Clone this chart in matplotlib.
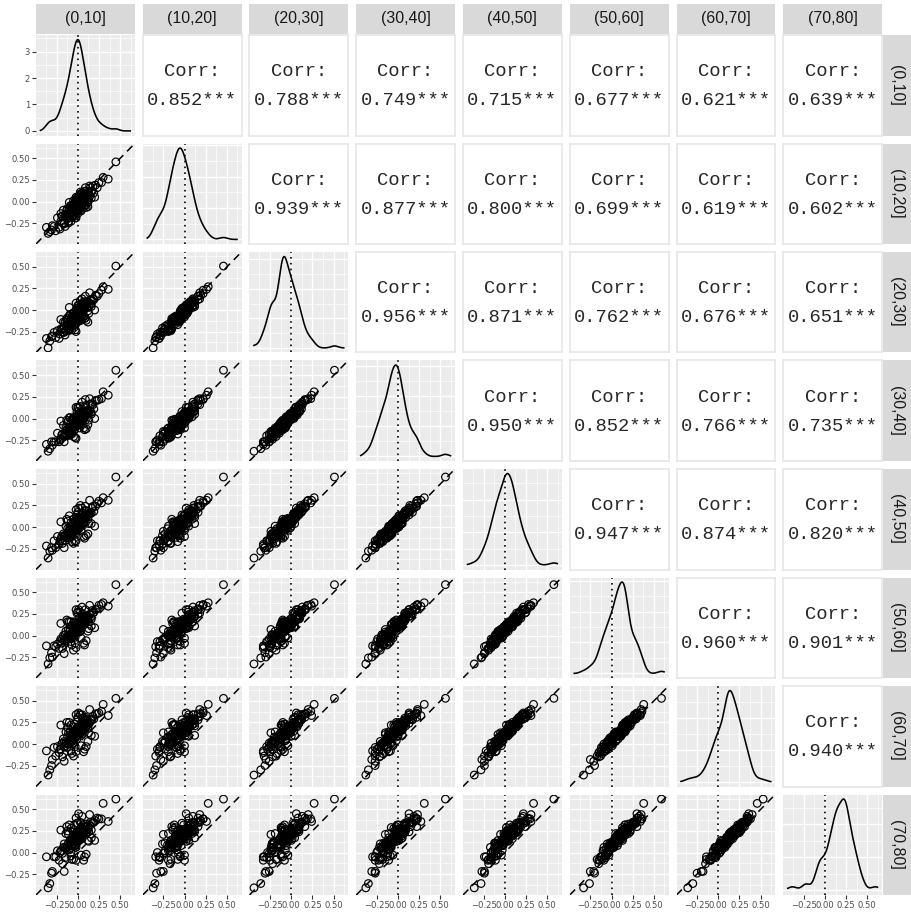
import numpy as np
import matplotlib.pyplot as plt
from matplotlib.ticker import MaxNLocator

# age groups (one variable per group)
groups = ['(0,10]', '(10,20]', '(20,30]', '(30,40]', '(40,50]', '(50,60]', '(60,70]', '(70,80]']

g0_10 = [0.45, 0.30, -0.35, -0.33, -0.31, -0.37, -0.22, -0.28, -0.26, -0.24,
         -0.21, -0.20, -0.19, -0.18, -0.17, -0.16, -0.15, -0.15, -0.14, -0.13,
         -0.12, -0.12, -0.11, -0.10, -0.10, -0.09, -0.09, -0.08, -0.08, -0.07,
         -0.07, -0.06, -0.06, -0.05, -0.05, -0.05, -0.04, -0.04, -0.03, -0.03,
         -0.03, -0.02, -0.02, -0.01, -0.01, -0.01, 0.00, 0.00, 0.00, 0.01,
         0.01, 0.01, 0.02, 0.02, 0.02, 0.03, 0.03, 0.03, 0.04, 0.04,
         0.05, 0.05, 0.05, 0.06, 0.06, 0.07, 0.07, 0.08, 0.08, 0.09,
         0.09, 0.10, 0.10, 0.11, 0.12, 0.12, 0.13, 0.14, 0.15, 0.16,
         0.17, 0.18, 0.19, 0.21, 0.23, 0.25, 0.28, -0.30, 0.36, -0.02,
         0.10, -0.13, 0.07, -0.08, 0.04, -0.16, 0.00, -0.06, 0.02, -0.04,
         0.12, -0.10, 0.05, -0.02, 0.20, -0.20, 0.01, -0.05, 0.14, -0.07,
         0.03, -0.11, 0.08, -0.01, 0.16, -0.14, 0.06, -0.03, 0.10, -0.08,
         0.00, 0.04, -0.18, 0.09, -0.04, 0.13, -0.12, 0.02, -0.06, 0.07,
         -0.09, 0.01, -0.02, 0.03, -0.01, 0.05, -0.03, 0.00, 0.02, -0.05]
g10_20 = [0.46, 0.28, -0.37, -0.35, -0.33, -0.30, -0.30, -0.29, -0.34, -0.19,
          -0.32, -0.23, -0.17, -0.25, -0.10, -0.26, -0.15, -0.29, -0.16, -0.10,
          -0.20, -0.16, -0.23, -0.09, -0.19, -0.05, -0.15, -0.09, -0.23, -0.10,
          -0.18, -0.04, -0.13, 0.01, -0.15, -0.10, -0.17, -0.04, -0.11, 0.01,
          -0.15, -0.04, -0.11, 0.00, -0.07, 0.04, -0.10, -0.03, -0.14, 0.03,
          -0.07, 0.00, -0.09, 0.05, -0.04, 0.03, -0.10, -0.01, 0.09, -0.05,
          0.03, -0.06, 0.08, -0.01, 0.07, -0.05, 0.04, 0.12, -0.01, 0.09,
          -0.05, 0.06, 0.12, 0.01, 0.11, -0.01, 0.10, 0.06, 0.16, 0.04,
          0.12, 0.18, 0.10, 0.19, 0.16, 0.22, 0.22, -0.28, 0.26, 0.05,
          -0.07, -0.15, 0.00, -0.13, 0.00, -0.25, 0.00, -0.12, -0.06, -0.07,
          -0.06, -0.01, 0.10, -0.19, 0.05, -0.14, 0.02, -0.16, 0.18, -0.08,
          0.11, -0.25, -0.05, -0.03, 0.12, -0.19, 0.06, -0.19, 0.07, -0.05,
          0.04, -0.11, -0.17, 0.16, -0.12, 0.02, -0.08, -0.03, -0.08, 0.05,
          -0.16, -0.06, -0.06, -0.02, -0.10, 0.06, -0.04, -0.10, -0.02, -0.03]
g20_30 = [0.51, 0.27, -0.44, -0.36, -0.31, -0.33, -0.33, -0.26, -0.32, -0.24,
          -0.28, -0.22, -0.23, -0.26, -0.14, -0.21, -0.14, -0.29, -0.24, -0.12,
          -0.17, -0.21, -0.22, -0.07, -0.23, -0.05, -0.22, -0.12, -0.19, -0.08,
          -0.23, -0.10, -0.14, -0.03, -0.14, -0.07, -0.20, -0.06, -0.09, -0.06,
          -0.15, 0.00, -0.16, -0.03, -0.06, -0.02, -0.11, -0.08, -0.11, 0.03,
          -0.13, 0.01, -0.11, 0.01, -0.01, -0.04, -0.09, -0.02, 0.04, -0.01,
          -0.03, -0.06, 0.07, -0.05, 0.09, -0.07, -0.01, 0.09, 0.02, 0.09,
          -0.09, 0.07, 0.06, 0.03, 0.10, -0.01, 0.03, 0.07, 0.12, 0.07,
          0.11, 0.13, 0.12, 0.17, 0.16, 0.19, 0.23, -0.30, 0.24, 0.08,
          -0.12, -0.10, -0.08, -0.11, -0.04, -0.26, -0.02, -0.12, -0.07, -0.09,
          -0.14, 0.03, 0.13, -0.25, 0.00, -0.11, 0.06, -0.18, 0.20, -0.17,
          0.11, -0.24, -0.10, 0.02, 0.04, -0.19, 0.03, -0.23, 0.10, -0.12,
          0.05, -0.12, -0.22, 0.16, -0.08, -0.04, -0.09, -0.01, -0.12, 0.03,
          -0.14, -0.08, -0.09, -0.02, -0.09, 0.02, -0.09, -0.10, -0.05, -0.04]
g30_40 = [0.56, 0.31, -0.38, -0.35, -0.27, -0.30, -0.27, -0.27, -0.27, -0.17,
          -0.25, -0.24, -0.19, -0.18, -0.08, -0.21, -0.17, -0.20, -0.18, -0.13,
          -0.12, -0.20, -0.15, -0.11, -0.19, 0.01, -0.17, -0.14, -0.17, -0.01,
          -0.15, -0.10, -0.08, 0.00, -0.15, -0.02, -0.13, -0.09, -0.05, -0.04,
          -0.09, -0.01, -0.09, 0.01, -0.08, 0.04, -0.04, -0.07, -0.06, 0.00,
          -0.05, 0.04, -0.11, 0.06, -0.02, 0.02, -0.07, 0.05, 0.02, 0.03,
          0.00, 0.02, 0.06, 0.00, 0.09, -0.01, 0.00, 0.13, 0.02, 0.15,
          -0.02, 0.04, 0.09, 0.08, 0.08, 0.06, 0.07, 0.09, 0.17, 0.07,
          0.17, 0.16, 0.11, 0.21, 0.21, 0.22, 0.23, -0.31, 0.27, 0.13,
          -0.12, -0.02, -0.11, -0.05, -0.06, -0.27, 0.01, -0.08, -0.05, -0.05,
          -0.07, 0.01, 0.19, -0.23, 0.00, -0.03, 0.13, -0.21, 0.23, -0.18,
          0.14, -0.15, -0.13, 0.08, 0.05, -0.11, 0.08, -0.22, 0.09, -0.09,
          0.13, -0.08, -0.22, 0.22, -0.01, -0.02, -0.04, 0.03, -0.11, 0.04,
          -0.11, -0.03, -0.06, -0.02, -0.07, 0.04, -0.07, -0.04, -0.04, 0.01]
g40_50 = [0.58, 0.34, -0.36, -0.28, -0.24, -0.22, -0.20, -0.16, -0.24, -0.11,
          -0.16, -0.14, -0.11, -0.16, -0.08, -0.10, -0.10, -0.16, -0.09, -0.12,
          -0.02, -0.08, -0.12, -0.03, -0.08, 0.00, -0.11, -0.06, -0.08, 0.01,
          -0.11, 0.01, -0.07, 0.09, -0.08, -0.02, -0.05, -0.02, 0.05, -0.01,
          -0.03, 0.09, -0.07, 0.10, -0.03, 0.04, 0.04, 0.04, -0.03, 0.08,
          0.01, 0.05, -0.01, 0.11, -0.01, 0.10, 0.04, 0.08, 0.09, 0.03,
          0.09, 0.08, 0.14, 0.02, 0.16, 0.09, 0.05, 0.14, 0.13, 0.19,
          0.05, 0.13, 0.11, 0.14, 0.18, 0.09, 0.15, 0.15, 0.17, 0.16,
          0.22, 0.24, 0.18, 0.24, 0.27, 0.30, 0.28, -0.27, 0.31, 0.20,
          -0.10, 0.09, -0.11, 0.05, -0.04, -0.24, 0.08, -0.03, 0.01, 0.01,
          -0.08, 0.13, 0.22, -0.16, 0.01, 0.06, 0.22, -0.19, 0.31, -0.17,
          0.25, -0.05, -0.13, 0.14, 0.04, 0.01, 0.16, -0.17, 0.19, -0.10,
          0.17, 0.02, -0.19, 0.24, 0.06, 0.04, 0.07, 0.08, -0.03, 0.11,
          -0.04, 0.05, 0.00, 0.03, 0.02, 0.10, -0.03, 0.01, 0.00, 0.09]
g50_60 = [0.59, 0.38, -0.33, -0.26, -0.20, -0.12, -0.15, -0.12, -0.13, -0.10,
          -0.07, -0.04, -0.09, -0.04, 0.00, -0.05, 0.01, -0.07, -0.06, -0.04,
          0.00, -0.02, -0.02, -0.02, 0.01, 0.07, 0.01, -0.03, -0.04, 0.11,
          0.00, 0.03, 0.01, 0.10, 0.04, 0.05, 0.00, 0.07, 0.08, 0.10,
          -0.02, 0.15, 0.03, 0.13, 0.08, 0.12, 0.08, 0.13, 0.04, 0.10,
          0.11, 0.13, 0.04, 0.20, 0.10, 0.14, 0.05, 0.17, 0.16, 0.13,
          0.11, 0.16, 0.19, 0.13, 0.19, 0.15, 0.15, 0.22, 0.15, 0.23,
          0.14, 0.19, 0.22, 0.17, 0.22, 0.19, 0.16, 0.24, 0.25, 0.19,
          0.29, 0.26, 0.27, 0.30, 0.31, 0.35, 0.36, -0.25, 0.34, 0.30,
          -0.06, 0.18, -0.09, 0.16, -0.03, -0.21, 0.15, 0.05, 0.07, 0.08,
          0.05, 0.16, 0.33, -0.14, 0.09, 0.14, 0.30, -0.17, 0.35, -0.11,
          0.27, 0.07, -0.11, 0.26, 0.11, 0.05, 0.25, -0.09, 0.20, -0.07,
          0.27, 0.13, -0.15, 0.30, 0.16, 0.08, 0.16, 0.15, 0.03, 0.18,
          0.05, 0.13, 0.07, 0.09, 0.07, 0.18, 0.04, 0.11, 0.08, 0.15]
g60_70 = [0.53, 0.46, -0.36, -0.30, -0.25, -0.08, -0.10, -0.04, -0.14, -0.03,
          -0.06, -0.06, 0.00, 0.01, 0.06, 0.03, -0.02, -0.03, 0.01, -0.04,
          0.08, 0.00, 0.03, 0.04, 0.00, 0.14, 0.02, 0.05, 0.02, 0.09,
          0.03, 0.12, 0.01, 0.15, 0.11, 0.04, 0.08, 0.09, 0.14, 0.10,
          0.07, 0.16, 0.08, 0.17, 0.06, 0.19, 0.14, 0.12, 0.12, 0.15,
          0.12, 0.17, 0.11, 0.20, 0.13, 0.20, 0.13, 0.16, 0.22, 0.18,
          0.15, 0.14, 0.26, 0.16, 0.24, 0.23, 0.15, 0.24, 0.22, 0.29,
          0.18, 0.20, 0.21, 0.25, 0.27, 0.19, 0.23, 0.25, 0.28, 0.27,
          0.29, 0.32, 0.29, 0.35, 0.35, 0.36, 0.38, -0.18, 0.33, 0.34,
          -0.03, 0.25, -0.09, 0.22, -0.02, -0.20, 0.18, 0.10, 0.11, 0.10,
          0.03, 0.25, 0.34, -0.09, 0.09, 0.22, 0.36, -0.14, 0.40, -0.11,
          0.34, 0.13, -0.06, 0.28, 0.10, 0.14, 0.30, -0.03, 0.28, -0.08,
          0.31, 0.22, -0.15, 0.31, 0.23, 0.13, 0.19, 0.21, 0.07, 0.20,
          0.10, 0.15, 0.10, 0.13, 0.13, 0.22, 0.09, 0.14, 0.13, 0.20]
g70_80 = [0.62, 0.57, -0.41, -0.36, -0.24, -0.05, -0.09, -0.05, -0.05, 0.02,
          0.00, 0.02, 0.02, -0.01, 0.06, 0.10, 0.06, -0.06, 0.05, 0.06,
          0.09, 0.06, 0.11, 0.03, 0.05, 0.14, 0.11, 0.08, 0.00, 0.16,
          0.09, 0.13, 0.09, 0.19, 0.10, 0.13, 0.12, 0.08, 0.19, 0.18,
          0.08, 0.23, 0.06, 0.23, 0.11, 0.19, 0.21, 0.14, 0.15, 0.23,
          0.17, 0.16, 0.17, 0.22, 0.22, 0.21, 0.17, 0.23, 0.22, 0.26,
          0.16, 0.20, 0.25, 0.24, 0.26, 0.27, 0.24, 0.24, 0.25, 0.30,
          0.25, 0.26, 0.26, 0.23, 0.31, 0.27, 0.24, 0.31, 0.35, 0.26,
          0.34, 0.35, 0.35, 0.37, 0.40, 0.39, 0.39, -0.22, 0.36, 0.40,
          -0.02, 0.30, -0.09, 0.28, -0.03, -0.22, 0.22, 0.13, 0.14, 0.14,
          0.14, 0.32, 0.42, -0.09, 0.14, 0.26, 0.45, -0.08, 0.44, -0.08,
          0.35, 0.21, -0.05, 0.34, 0.17, 0.22, 0.32, 0.06, 0.33, -0.04,
          0.34, 0.29, -0.13, 0.30, 0.32, 0.13, 0.25, 0.26, 0.08, 0.23,
          0.14, 0.21, 0.15, 0.16, 0.15, 0.28, 0.14, 0.19, 0.20, 0.24]

# correlation labels shown in the upper triangle (row by row)
corr_r1 = ['0.852***', '0.788***', '0.749***', '0.715***', '0.677***', '0.621***', '0.639***']
corr_r2 = ['0.939***', '0.877***', '0.800***', '0.699***', '0.619***', '0.602***']
corr_r3 = ['0.956***', '0.871***', '0.762***', '0.676***', '0.651***']
corr_r4 = ['0.950***', '0.852***', '0.766***', '0.735***']
corr_r5 = ['0.947***', '0.874***', '0.820***']
corr_r6 = ['0.960***', '0.901***']
corr_r7 = ['0.940***']

series = [g0_10, g10_20, g20_30, g30_40, g40_50, g50_60, g60_70, g70_80]
corr_rows = [corr_r1, corr_r2, corr_r3, corr_r4, corr_r5, corr_r6, corr_r7]

#%% layout (pixels)
W, H = 911, 917
fig = plt.figure(figsize=(W / 100, H / 100), dpi=100)
left0, top0 = 36, 35
pw, ph, gap = 98.75, 100.5, 8

def px_axes(x, y, w, h):
    return fig.add_axes([x / W, 1 - (y + h) / H, w / W, h / H])

def fmt(v):
    return f'{v:.2f}'.replace('-', '\u2212')

allv = np.concatenate([np.asarray(s, float) for s in series])
lo, hi = allv.min(), allv.max()
pad = 0.05 * (hi - lo)
xlim = (lo - pad, hi + pad)
xmaj = [-0.25, 0.0, 0.25, 0.5]
xmin = [m for m in np.arange(-0.625, 0.8, 0.25) if xlim[0] < m < xlim[1]]

def density(vals, xs):
    # gaussian kernel, bw.nrd0 like R
    v = np.asarray(vals, float)
    n = len(v)
    iqr = np.subtract(*np.percentile(v, [75, 25]))
    bw = 0.9 * min(v.std(ddof=1), iqr / 1.34) * n ** -0.2
    z = (xs[:, None] - v[None, :]) / bw
    return np.exp(-0.5 * z ** 2).sum(axis=1) / (n * bw * np.sqrt(2 * np.pi))

def gray_panel(ax, ymaj, ymin):
    ax.set_facecolor('#EBEBEB')
    for s in ax.spines.values():
        s.set_visible(False)
    ax.set_xticks(xmaj)
    ax.set_xticks(xmin, minor=True)
    ax.set_yticks(ymaj)
    ax.set_yticks(ymin, minor=True)
    ax.grid(which='major', color='white', lw=1.0)
    ax.grid(which='minor', color='white', lw=0.5)
    ax.set_axisbelow(True)
    ax.tick_params(which='minor', length=0)
    ax.tick_params(which='major', length=2.75, width=0.8, color='#333333',
                   labelsize=6.1, labelcolor='#4D4D4D', pad=1.5)

xs = np.linspace(lo, hi, 512)

for i in range(8):
    for j in range(8):
        x = left0 + j * (pw + gap)
        y = top0 + i * (ph + gap)
        ax = px_axes(x, y, pw, ph)
        if j > i:
            ax.set_facecolor('white')
            for s in ax.spines.values():
                s.set_color('#E6E6E6')
                s.set_linewidth(1.2)
            ax.set_xticks([])
            ax.set_yticks([])
            ax.text(0.5, 0.635, 'Corr:', ha='center', va='center', fontsize=13.5,
                    family='Liberation Mono', color='#262626', transform=ax.transAxes)
            ax.text(0.5, 0.345, corr_rows[i][j - i - 1], ha='center', va='center',
                    fontsize=13.5, family='Liberation Mono', color='#262626',
                    transform=ax.transAxes)
            continue
        if j == i:
            dens = density(series[i], xs)
            top = dens.max()
            ymaj = [t for t in MaxNLocator(5, steps=[1, 2, 2.5, 5, 10]).tick_values(0, top)
                    if -0.05 * top <= t <= 1.05 * top]
            step = ymaj[1] - ymaj[0]
            ymin = [t + step / 2 for t in ymaj[:-1]] + [ymaj[-1] + step / 2]
            gray_panel(ax, ymaj, ymin)
            ax.plot(xs, dens, color='black', lw=1.15)
            ax.axvline(0, color='black', lw=1.2, ls=(0, (1, 2.5)))
            ax.set_ylim(-0.05 * top, 1.05 * top)
            ax.set_yticklabels([f'{t:g}' for t in ymaj])
        else:
            ymaj = xmaj
            gray_panel(ax, ymaj, xmin)
            ax.plot(xlim, xlim, color='black', lw=1.1, ls=(0, (5, 3.5)))
            ax.axvline(0, color='black', lw=1.2, ls=(0, (1, 2.5)))
            ax.scatter(series[j], series[i], s=30, facecolors='none',
                       edgecolors='black', linewidths=0.85, zorder=3)
            ax.set_ylim(xlim)
            ax.set_yticklabels([fmt(t) for t in ymaj])
        ax.set_xlim(xlim)
        ax.set_xticklabels([fmt(t) for t in xmaj])
        if j != 0:
            ax.tick_params(axis='y', which='major', length=0, labelleft=False)
        if i != 7:
            ax.tick_params(axis='x', which='major', length=0, labelbottom=False)

# strips
for k, g in enumerate(groups):
    sx = px_axes(left0 + k * (pw + gap), 4, pw, 30)
    sx.set_facecolor('#D9D9D9')
    sx.set_xticks([])
    sx.set_yticks([])
    for s in sx.spines.values():
        s.set_visible(False)
    sx.text(0.5, 0.5, g, ha='center', va='center', fontsize=11.5,
            family='Liberation Sans', color='#1A1A1A', transform=sx.transAxes)

    sy = px_axes(883, top0 + k * (ph + gap), 28, ph)
    sy.set_facecolor('#D9D9D9')
    sy.set_xticks([])
    sy.set_yticks([])
    for s in sy.spines.values():
        s.set_visible(False)
    sy.text(0.5, 0.5, g, ha='center', va='center', fontsize=11.5, rotation=-90,
            family='Liberation Sans', color='#1A1A1A', transform=sy.transAxes)

fig.savefig('out.png', dpi=100)
